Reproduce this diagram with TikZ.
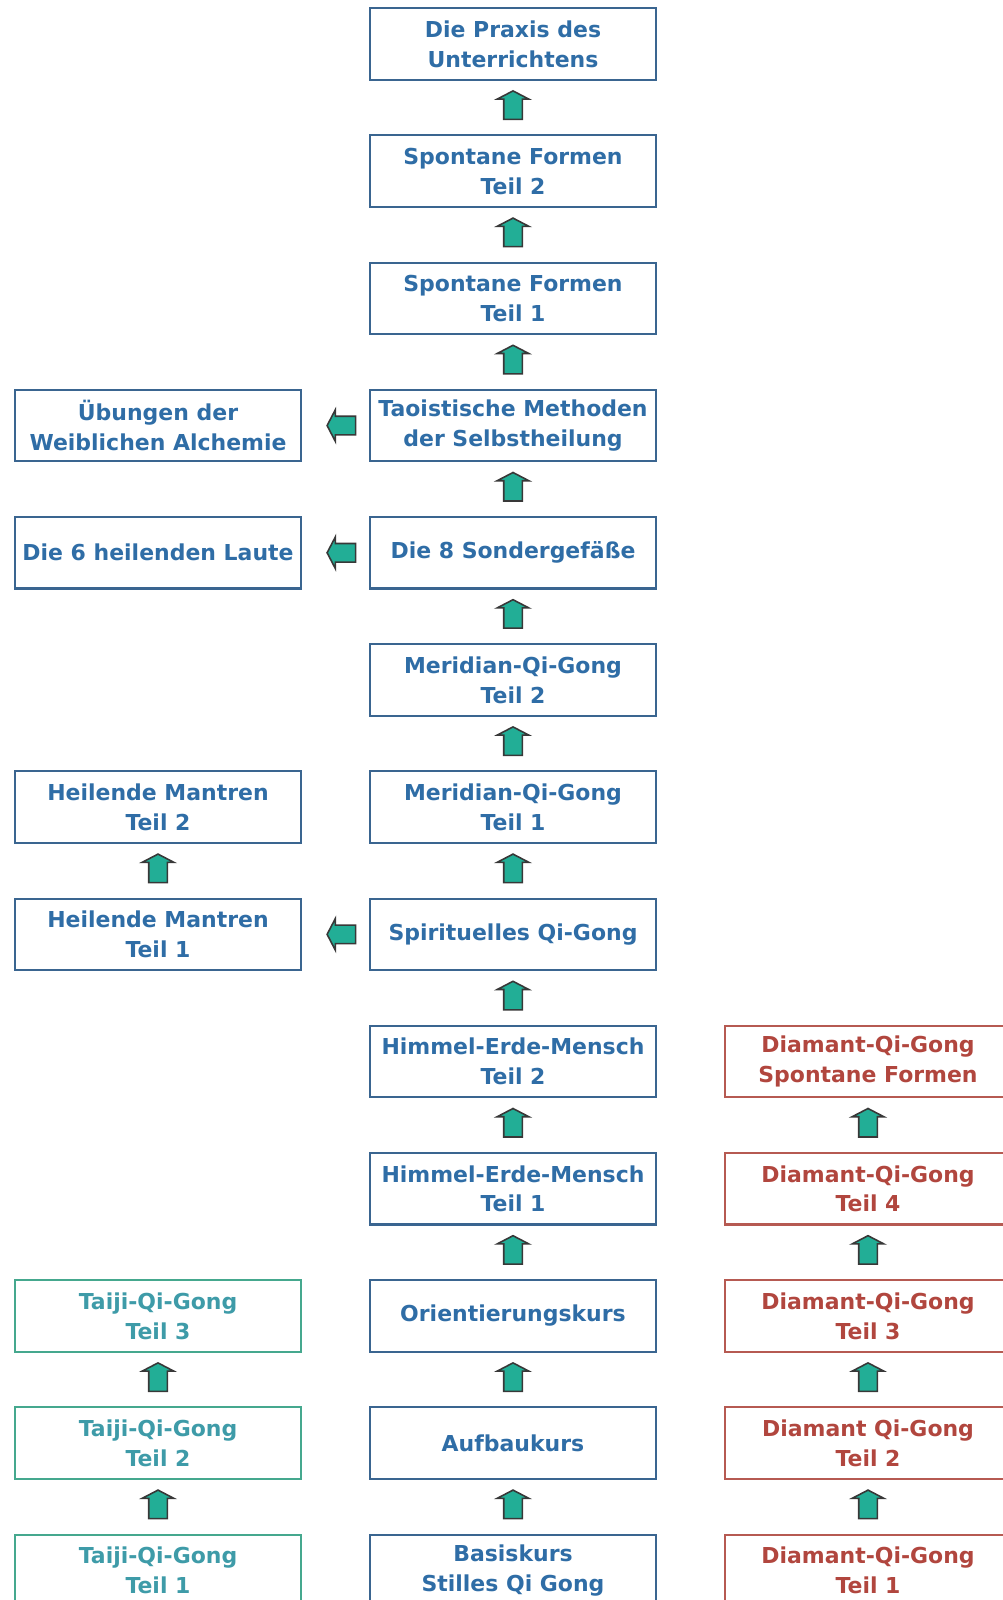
\documentclass[tikz,border=0pt]{standalone}
\usepackage{fontspec}
\setmainfont{DejaVu Sans}
\usetikzlibrary{positioning,shapes.arrows}
\definecolor{kursblau}{HTML}{2F6DA6}
\definecolor{kursrand}{HTML}{3A6590}
\definecolor{taijitext}{HTML}{3E9BA8}
\definecolor{taijirand}{HTML}{45A88E}
\definecolor{diamanttext}{HTML}{B1463E}
\definecolor{diamantrand}{HTML}{B65A52}
\definecolor{pfeilgruen}{HTML}{22AE96}
\definecolor{pfeilrand}{HTML}{383838}

\begin{document}
\begin{tikzpicture}[node distance=1.114cm and 1.38cm]
    \tikzstyle{kurs}=[rectangle, draw=kursrand, line width=1.2pt, text=kursblau, minimum width=5.72cm, minimum height=1.43cm, inner xsep=2pt, outer sep=0pt, align=center, font=\fontsize{12.5}{17}\selectfont\bfseries]
    \tikzstyle{taiji}=[kurs, draw=taijirand, text=taijitext]
    \tikzstyle{diamant}=[kurs, draw=diamantrand, text=diamanttext]
    \tikzstyle{pfeil}=[single arrow, draw=pfeilrand, fill=pfeilgruen, line width=0.9pt, minimum height=0.57cm, inner sep=0.17cm, single arrow head extend=0.13cm, single arrow tip angle=125]
    \tikzstyle{hoch}=[pfeil, shape border rotate=90]
    \tikzstyle{links}=[pfeil, shape border rotate=180]

    \useasboundingbox (0,0) rectangle (20.06,-32);

    % mittlere Spalte
    \node[kurs] (praxis) at (10.26,-0.879) {Die Praxis des\\Unterrichtens};
    \node[kurs, below=of praxis] (spontan2) {Spontane Formen\\Teil 2};
    \node[kurs, below=of spontan2] (spontan1) {Spontane Formen\\Teil 1};
    \node[kurs, below=of spontan1] (taoist) {Taoistische Methoden\\der Selbstheilung};
    \node[kurs, below=of taoist] (sonder) {Die 8 Sondergefäße};
    \node[kurs, below=of sonder] (meridian2) {Meridian-Qi-Gong\\Teil 2};
    \node[kurs, below=of meridian2] (meridian1) {Meridian-Qi-Gong\\Teil 1};
    \node[kurs, below=of meridian1] (spirit) {Spirituelles Qi-Gong};
    \node[kurs, below=of spirit] (hem2) {Himmel-Erde-Mensch\\Teil 2};
    \node[kurs, below=of hem2] (hem1) {Himmel-Erde-Mensch\\Teil 1};
    \node[kurs, below=of hem1] (orient) {Orientierungskurs};
    \node[kurs, below=of orient] (aufbau) {Aufbaukurs};
    \node[kurs, below=of aufbau] (basis) {Basiskurs\\Stilles Qi Gong};

    % linke Spalte
    \node[kurs, left=of taoist] (uebung) {Übungen der\\Weiblichen Alchemie};
    \node[kurs, left=of sonder] (laute) {Die 6 heilenden Laute};
    \node[kurs, left=of meridian1] (mantra2) {Heilende Mantren\\Teil 2};
    \node[kurs, left=of spirit] (mantra1) {Heilende Mantren\\Teil 1};
    \node[taiji, left=of orient] (taiji3) {Taiji-Qi-Gong\\Teil 3};
    \node[taiji, left=of aufbau] (taiji2) {Taiji-Qi-Gong\\Teil 2};
    \node[taiji, left=of basis] (taiji1) {Taiji-Qi-Gong\\Teil 1};

    % rechte Spalte
    \node[diamant, right=of hem2] (diaS) {Diamant-Qi-Gong\\Spontane Formen};
    \node[diamant, right=of hem1] (dia4) {Diamant-Qi-Gong\\Teil 4};
    \node[diamant, right=of orient] (dia3) {Diamant-Qi-Gong\\Teil 3};
    \node[diamant, right=of aufbau] (dia2) {Diamant Qi-Gong\\Teil 2};
    \node[diamant, right=of basis] (dia1) {Diamant-Qi-Gong\\Teil 1};

    % Pfeile
    \path (basis) -- node[hoch]{} (aufbau);
    \path (aufbau) -- node[hoch]{} (orient);
    \path (orient) -- node[hoch]{} (hem1);
    \path (hem1) -- node[hoch]{} (hem2);
    \path (hem2) -- node[hoch]{} (spirit);
    \path (spirit) -- node[hoch]{} (meridian1);
    \path (meridian1) -- node[hoch]{} (meridian2);
    \path (meridian2) -- node[hoch]{} (sonder);
    \path (sonder) -- node[hoch]{} (taoist);
    \path (taoist) -- node[hoch]{} (spontan1);
    \path (spontan1) -- node[hoch]{} (spontan2);
    \path (spontan2) -- node[hoch]{} (praxis);
    \path (mantra1) -- node[hoch]{} (mantra2);
    \path (taiji1) -- node[hoch]{} (taiji2);
    \path (taiji2) -- node[hoch]{} (taiji3);
    \path (dia1) -- node[hoch]{} (dia2);
    \path (dia2) -- node[hoch]{} (dia3);
    \path (dia3) -- node[hoch]{} (dia4);
    \path (dia4) -- node[hoch]{} (diaS);
    \path (taoist) -- node[links, pos=0.38]{} (uebung);
    \path (sonder) -- node[links, pos=0.38]{} (laute);
    \path (spirit) -- node[links, pos=0.38]{} (mantra1);
\end{tikzpicture}
\end{document}
